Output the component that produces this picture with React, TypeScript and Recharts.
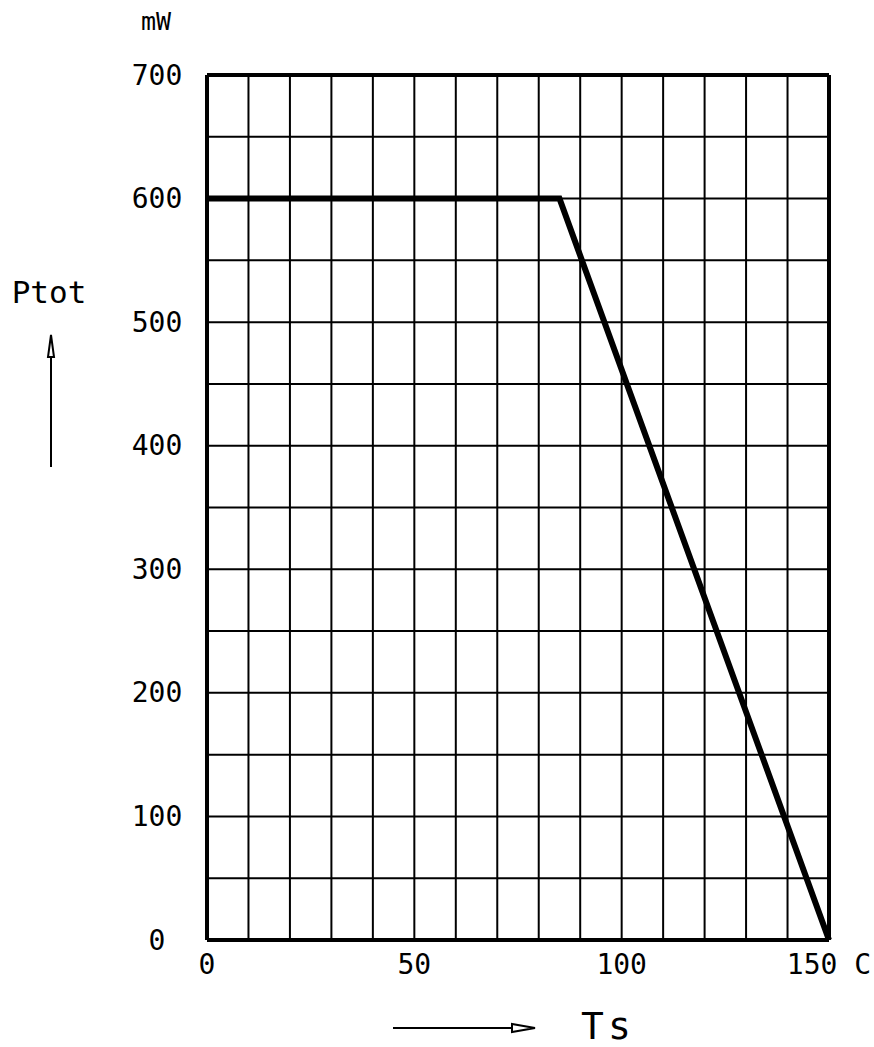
import { LineChart, Line, XAxis, YAxis, CartesianGrid, ReferenceLine } from 'recharts';

// derating curve: total power vs. soldering point temperature
const temps = [0, 85, 150];
const power = [600, 600, 0];

const xTicks = [0, 10, 20, 30, 40, 50, 60, 70, 80, 90, 100, 110, 120, 130, 140, 150];
const yTicks = [0, 50, 100, 150, 200, 250, 300, 350, 400, 450, 500, 550, 600, 650, 700];
const xLabels = ['0', '50', '100', '150 C'];

const data = temps.map((t, i) => ({ t, p: power[i] }));

const FONT = '"DejaVu Sans Mono", monospace';

const XTick = (props: any) => {
  const { x, payload } = props;
  const v = payload.value;
  if (v % 50 !== 0) return null;
  return (
    <text x={x} y={964} textAnchor="middle" dominantBaseline="central" fontFamily={FONT} fontSize={28} fill="#000">
      {xLabels[v / 50]}
    </text>
  );
};

const YTick = (props: any) => {
  const { y, payload } = props;
  const v = payload.value;
  if (v % 100 !== 0) return null;
  return (
    <text x={157} y={y} textAnchor="middle" dominantBaseline="central" fontFamily={FONT} fontSize={28} fill="#000">
      {v}
    </text>
  );
};

const App = () => {
  return (
    <div style={{ position: 'absolute', left: 0, top: 0, width: 874, height: 1047, background: '#fff' }}>
      <LineChart
        width={874}
        height={1047}
        data={data}
        margin={{ top: 75, right: 45, bottom: 77, left: 147 }}
      >
        <CartesianGrid stroke="#000" strokeWidth={2} strokeOpacity={1} />
        <XAxis
          dataKey="t"
          type="number"
          domain={[0, 150]}
          ticks={xTicks}
          interval={0}
          height={30}
          axisLine={false}
          tickLine={false}
          tick={<XTick />}
        />
        <YAxis
          type="number"
          domain={[0, 700]}
          ticks={yTicks}
          interval={0}
          width={60}
          axisLine={false}
          tickLine={false}
          tick={<YTick />}
        />
        <ReferenceLine x={0} stroke="#000" strokeWidth={4} />
        <ReferenceLine x={150} stroke="#000" strokeWidth={4} />
        <ReferenceLine y={0} stroke="#000" strokeWidth={4} />
        <ReferenceLine y={700} stroke="#000" strokeWidth={4} />
        <Line
          type="linear"
          dataKey="p"
          stroke="#000"
          strokeWidth={6}
          dot={false}
          activeDot={false}
          isAnimationActive={false}
        />
      </LineChart>
      <svg
        width={874}
        height={1047}
        style={{ position: 'absolute', left: 0, top: 0, pointerEvents: 'none' }}
      >
        <text x={156} y={21} textAnchor="middle" dominantBaseline="central" fontFamily={FONT} fontSize={25} fill="#000">
          mW
        </text>
        <text x={49} y={292} textAnchor="middle" dominantBaseline="central" fontFamily={FONT} fontSize={31} fill="#000">
          Ptot
        </text>
        <line x1={51} y1={356} x2={51} y2={467} stroke="#000" strokeWidth={2} />
        <path d="M51,335 L48,357 L54,357 Z" fill="none" stroke="#000" strokeWidth={2} />
        <line x1={393} y1={1028} x2={512} y2={1028} stroke="#000" strokeWidth={2} />
        <path d="M535,1028 L512,1024 L512,1032 Z" fill="none" stroke="#000" strokeWidth={2} />
        <text x={608} y={1026} textAnchor="middle" dominantBaseline="central" fontFamily={FONT} fontSize={38} letterSpacing={4} fill="#000">
          Ts
        </text>
      </svg>
    </div>
  );
};

export default App;
